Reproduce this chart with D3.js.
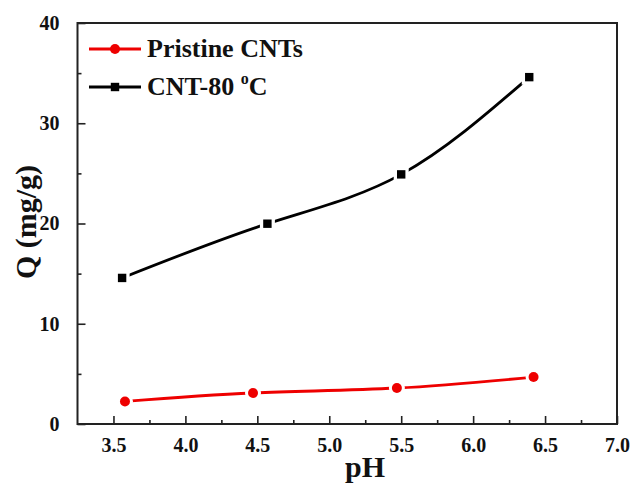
<!DOCTYPE html>
<html>
<head>
<meta charset="utf-8">
<script src="https://cdn.jsdelivr.net/npm/d3@7"></script>
<style>
  html, body { margin: 0; padding: 0; background: #fff; }
  svg { display: block; }
  text { font-family: "Liberation Serif", "Times New Roman", serif; font-weight: bold; fill: #111; }
</style>
</head>
<body>
<svg id="chart" width="633" height="483"></svg>
<script>
// pH values and adsorption capacity Q (mg/g)
const pristinePH = [3.58, 4.47, 5.47, 6.42];
const pristineQ  = [2.25, 3.09, 3.59, 4.68];
const cnt80PH    = [3.56, 4.57, 5.50, 6.39];
const cnt80Q     = [14.57, 19.98, 24.9, 34.6];

const xTicks = [3.5, 4.0, 4.5, 5.0, 5.5, 6.0, 6.5, 7.0];
const xMinor = [3.75, 4.25, 4.75, 5.25, 5.75, 6.25, 6.75];
const yTicks = [0, 10, 20, 30, 40];
const yMinor = [5, 15, 25, 35];

const svg = d3.select("#chart");
const L = 77.5, R = 617, T = 23, B = 424;

const x = d3.scaleLinear().domain([3.25, 7.0]).range([L, R]);
const y = d3.scaleLinear().domain([0, 40]).range([B, T]);

// axes: ticks point inward, no tick on top/right
const xAxis = d3.axisBottom(x).tickValues(xTicks).tickFormat(d3.format(".1f")).tickSizeInner(-8).tickSizeOuter(0).tickPadding(14);
const xAxisMinor = d3.axisBottom(x).tickValues(xMinor).tickFormat("").tickSizeInner(-4).tickSizeOuter(0);
const yAxis = d3.axisLeft(y).tickValues(yTicks).tickFormat(d3.format("d")).tickSizeInner(-8).tickSizeOuter(0).tickPadding(18);
const yAxisMinor = d3.axisLeft(y).tickValues(yMinor).tickFormat("").tickSizeInner(-4).tickSizeOuter(0);

function styleAxis(g) {
  g.select(".domain").remove();
  g.selectAll(".tick line").attr("stroke", "#222").attr("stroke-width", 1.6);
  g.selectAll(".tick text").attr("font-size", 20).attr("fill", "#111")
    .attr("font-family", "Liberation Serif, Times New Roman, serif").attr("font-weight", "bold");
}

svg.append("g").attr("transform", `translate(0,${B})`).call(xAxis).call(styleAxis);
svg.append("g").attr("transform", `translate(0,${B})`).call(xAxisMinor).call(styleAxis);
svg.append("g").attr("transform", `translate(${L},0)`).call(yAxis).call(styleAxis);
svg.append("g").attr("transform", `translate(${L},0)`).call(yAxisMinor).call(styleAxis);

// frame
svg.append("rect")
  .attr("x", L).attr("y", T).attr("width", R - L).attr("height", B - T)
  .attr("fill", "none").attr("stroke", "#222").attr("stroke-width", 2);

// axis titles
svg.append("text").attr("x", 365).attr("y", 477).attr("text-anchor", "middle")
  .attr("font-size", 30).text("pH");
svg.append("text").attr("transform", "translate(36,222) rotate(-90)")
  .attr("text-anchor", "middle").attr("font-size", 30).text("Q (mg/g)");

const line = d3.line().curve(d3.curveNatural).x(d => x(d[0])).y(d => y(d[1]));

function drawSeries(phs, qs, color, shape) {
  const pts = phs.map((p, i) => [p, qs[i]]);
  svg.append("path").datum(pts).attr("d", line)
    .attr("fill", "none").attr("stroke", color).attr("stroke-width", 2.8);
  // white halo leaves a small gap between line and marker
  const g = svg.append("g");
  pts.forEach(d => {
    const cx = x(d[0]), cy = y(d[1]);
    if (shape === "circle") {
      g.append("circle").attr("cx", cx).attr("cy", cy).attr("r", 8).attr("fill", "#fff");
      g.append("circle").attr("cx", cx).attr("cy", cy).attr("r", 5).attr("fill", color);
    } else {
      g.append("rect").attr("x", cx - 7.5).attr("y", cy - 7.5).attr("width", 15).attr("height", 15).attr("fill", "#fff");
      g.append("rect").attr("x", cx - 4.2).attr("y", cy - 4.2).attr("width", 8.4).attr("height", 8.4).attr("fill", color);
    }
  });
}

drawSeries(cnt80PH, cnt80Q, "#000", "square");
drawSeries(pristinePH, pristineQ, "#ee0000", "circle");

// legend
const leg = svg.append("g");
function legendItem(yPos, color, shape, labelFn) {
  leg.append("line").attr("x1", 89).attr("x2", 141).attr("y1", yPos).attr("y2", yPos)
    .attr("stroke", color).attr("stroke-width", 2.8);
  if (shape === "circle") {
    leg.append("circle").attr("cx", 115).attr("cy", yPos).attr("r", 5).attr("fill", color);
  } else {
    leg.append("rect").attr("x", 115 - 4.2).attr("y", yPos - 4.2).attr("width", 8.4).attr("height", 8.4).attr("fill", color);
  }
  const t = leg.append("text").attr("x", 147).attr("y", yPos + 8).attr("font-size", 26);
  labelFn(t);
}
legendItem(49, "#ee0000", "circle", t => t.text("Pristine CNTs"));
legendItem(87, "#000", "square", t => {
  t.append("tspan").text("CNT-80 ");
  t.append("tspan").attr("font-size", 16).attr("dy", -11).text("o");
  t.append("tspan").attr("dy", 11).text("C");
});
</script>
</body>
</html>
